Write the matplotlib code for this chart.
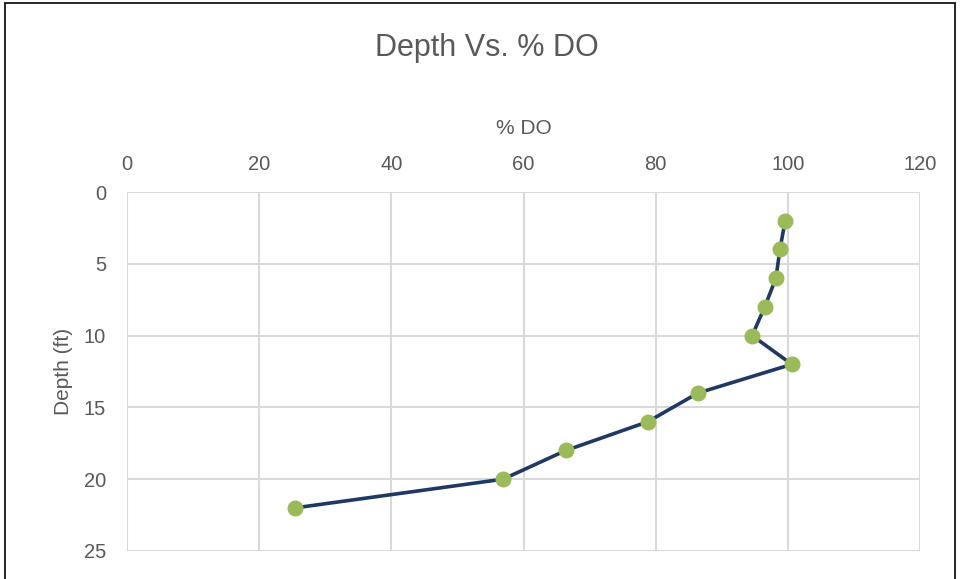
import matplotlib
matplotlib.use("Agg")
import matplotlib.pyplot as plt
from matplotlib.patches import Rectangle

# readings from the profile
depth_ft = [2, 4, 6, 8, 10, 12, 14, 16, 18, 20, 22]
do_pct = [99.6, 98.8, 98.2, 96.5, 94.6, 100.6, 86.4, 78.8, 66.4, 56.9, 25.4]

x_ticks = [0, 20, 40, 60, 80, 100, 120]
y_ticks = [0, 5, 10, 15, 20, 25]

plt.rcParams['font.family'] = ['Liberation Sans', 'DejaVu Sans']
text_col = '#595959'
grid_col = '#d9d9d9'

fig = plt.figure(figsize=(9.6, 5.79), dpi=100)
ax = fig.add_axes([127/960, 1 - 551/579, (920 - 127)/960, (551 - 192)/579])

# chart border (bottom edge is cut off in the original)
fig.patches.append(Rectangle((5/960, -0.1), 950/960, 1.1 - 3/579,
                             transform=fig.transFigure, fill=False,
                             edgecolor='black', linewidth=1.2, zorder=0))

ax.plot(do_pct, depth_ft, color='#1f3864', linewidth=2.6, zorder=3)
ax.plot(do_pct, depth_ft, linestyle='none', marker='o', markersize=10.5,
        markerfacecolor='#9bbb59', markeredgecolor='#9bbb59', zorder=4)

ax.set_xlim(0, 120)
ax.set_ylim(25, 0)
ax.set_xticks(x_ticks)
ax.set_yticks(y_ticks)
ax.xaxis.tick_top()
ax.xaxis.set_label_position('top')
ax.tick_params(length=0, labelsize=14.5, labelcolor=text_col, pad=13)
ax.tick_params(axis='y', pad=15)
ax.grid(True, color=grid_col, linewidth=1.5)
ax.set_axisbelow(True)
for s in ax.spines.values():
    s.set_visible(False)

ax.set_xlabel('% DO', fontsize=15, color=text_col, labelpad=15)
ax.set_ylabel('Depth (ft)', fontsize=15, color=text_col, labelpad=8)
fig.text(487/960, 1 - 48/579, 'Depth Vs. % DO', fontsize=22, color=text_col,
         ha='center', va='center')

fig.savefig('out.png', dpi=100)
